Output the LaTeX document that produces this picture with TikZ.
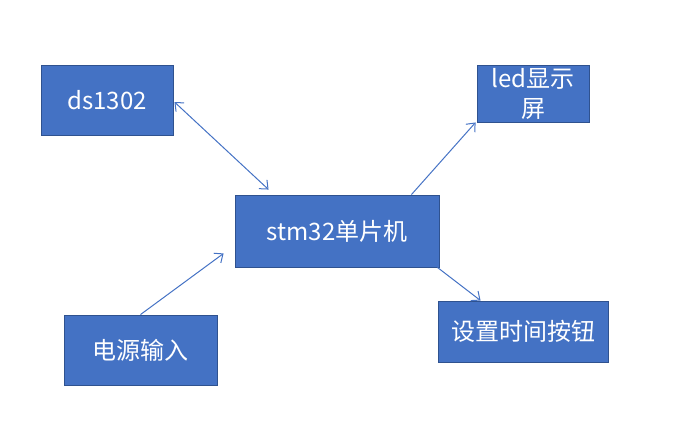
\documentclass[tikz,border=0pt]{standalone}
\usepackage{fontspec}
\setmainfont{Noto Sans CJK SC}
\usetikzlibrary{arrows.meta}
\definecolor{boxfill}{HTML}{4472C4}
\definecolor{boxline}{HTML}{2F528F}
\tikzset{
  blk/.style={draw=boxline, line width=0.9pt, fill=boxfill, text=white, inner sep=0pt,
    font=\fontsize{24}{30}\selectfont, align=center},
  conn/.style={draw=boxfill, line width=1pt, -{Straight Barb[length=7pt,width=12pt,line width=1pt]}},
  conn2/.style={conn, {Straight Barb[length=7pt,width=12pt,line width=1pt]}-{Straight Barb[length=7pt,width=12pt,line width=1pt]}}
}
\begin{document}
\begin{tikzpicture}[x=1pt,y=-1pt]
\useasboundingbox (0,0) rectangle (676,442);
\node[blk, minimum width=132pt, minimum height=70pt] (ds) at (107,100) {ds1302};
\node[blk, minimum width=204pt, minimum height=72pt] (stm) at (337,231) {stm32单片机};
\node[blk, minimum width=112pt, minimum height=57pt] (led) at (533,93.5) {led显示\\屏};
\node[blk, minimum width=153pt, minimum height=70pt] (pw) at (140.5,350) {电源输入};
\node[blk, minimum width=170pt, minimum height=61pt] (btn) at (523,331.5) {设置时间按钮};
\draw[conn2] ([yshift=-2pt,xshift=1pt]ds.east) -- ([xshift=34pt,yshift=5pt]stm.north west);
\draw[conn] ([xshift=-28pt]stm.north east) -- ([xshift=-1pt]led.south west);
\draw[conn] (pw.north) -- ([xshift=-11pt,yshift=14pt]stm.south west);
\draw[conn] ([xshift=-2pt]stm.south east) -- ([xshift=43pt]btn.north west);
\end{tikzpicture}
\end{document}
